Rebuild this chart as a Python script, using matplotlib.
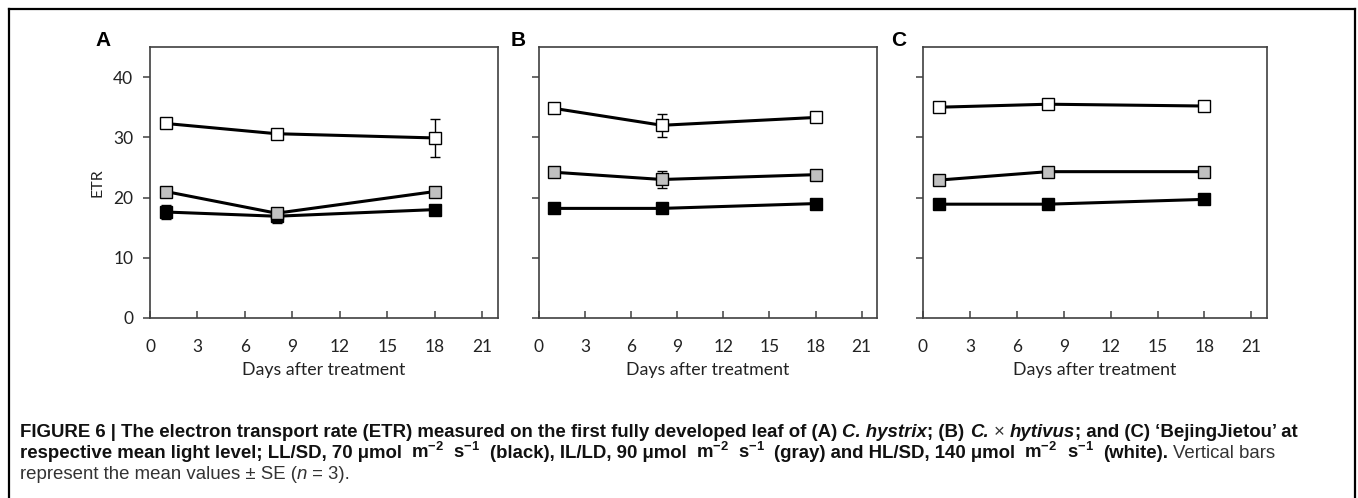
import numpy as np
import matplotlib.pyplot as plt
from matplotlib.lines import Line2D

W, H = 1358, 498

# Days after treatment
days = [1, 8, 18]

# panel A: C. hystrix
a_black = [17.6, 16.9, 18.0]
a_black_err = [1.1, 1.2, 0.3]
a_gray = [21.0, 17.4, 21.0]
a_gray_err = [0.4, 0.5, 0.4]
a_white = [32.3, 30.6, 29.9]
a_white_err = [0.5, 0.4, 3.2]

# panel B: C. x hytivus
b_black = [18.2, 18.2, 19.0]
b_black_err = [0.3, 0.3, 0.3]
b_gray = [24.2, 23.0, 23.8]
b_gray_err = [0.3, 1.4, 0.3]
b_white = [34.8, 32.0, 33.3]
b_white_err = [0.4, 1.9, 0.3]

# panel C: 'BejingJietou'
c_black = [18.9, 18.9, 19.7]
c_black_err = [0.3, 0.3, 0.3]
c_gray = [22.9, 24.3, 24.3]
c_gray_err = [0.3, 0.3, 0.3]
c_white = [35.0, 35.5, 35.2]
c_white_err = [0.3, 0.3, 0.3]

x_ticks = [0, 3, 6, 9, 12, 15, 18, 21]
y_ticks = [0, 10, 20, 30, 40]
panel_letters = ['A', 'B', 'C']

panels = [
    [(a_black, a_black_err), (a_gray, a_gray_err), (a_white, a_white_err)],
    [(b_black, b_black_err), (b_gray, b_gray_err), (b_white, b_white_err)],
    [(c_black, c_black_err), (c_gray, c_gray_err), (c_white, c_white_err)],
]
fills = ['black', '#c0c0c0', 'white']

# pixel boxes of the three axes (left, right), same top/bottom
ax_lr = [(150, 498), (539, 877), (923, 1267)]
ax_top, ax_bot = 47, 318
letter_x = [103, 518, 899]

fig = plt.figure(figsize=(W / 100, H / 100), dpi=100)

tick_font = 'Lato'
for i, (l, r) in enumerate(ax_lr):
    ax = fig.add_axes([l / W, 1 - ax_bot / H, (r - l) / W, (ax_bot - ax_top) / H])
    for (vals, errs), fc in zip(panels[i], fills):
        ax.errorbar(days, vals, yerr=errs, fmt='none', ecolor='black',
                    elinewidth=1.0, capsize=3.5, capthick=1.0, zorder=2)
        ax.plot(days, vals, color='black', lw=2.2, marker='s', markersize=9,
                markerfacecolor=fc, markeredgecolor='black', markeredgewidth=1.0,
                zorder=3)
    ax.set_xlim(0, 22)
    ax.set_ylim(0, 45)
    ax.set_xticks(x_ticks)
    ax.set_yticks(y_ticks)
    for s in ax.spines.values():
        s.set_color('#404040')
        s.set_linewidth(1.2)
    ax.tick_params(axis='x', direction='in', length=5, width=1.1, color='#404040',
                   labelsize=12.5, pad=15, labelcolor='#222222')
    ax.tick_params(axis='y', direction='out', length=5, width=1.1, color='#404040',
                   labelsize=12.5, pad=7, labelcolor='#222222')
    for lab in ax.get_xticklabels() + ax.get_yticklabels():
        lab.set_fontfamily(tick_font)
    if i == 0:
        ax.set_ylabel('ETR', fontsize=11.5, family=tick_font, color='#222222', labelpad=6)
    else:
        ax.set_yticklabels([])
    ax.set_xlabel('Days after treatment', fontsize=12.8, family=tick_font,
                  color='#222222', labelpad=5)
    fig.text(letter_x[i] / W, 1 - 40 / H, panel_letters[i], fontsize=15,
             fontweight='bold', family='Liberation Sans', ha='center', va='center')

# outer frame (left, top, right)
frame_kw = dict(color='black', lw=1.6, transform=fig.transFigure)
fig.add_artist(Line2D([9 / W, 9 / W], [0, 1 - 9 / H], **frame_kw))
fig.add_artist(Line2D([9 / W, 1355 / W], [1 - 9 / H, 1 - 9 / H], **frame_kw))
fig.add_artist(Line2D([1355 / W, 1355 / W], [0, 1 - 9 / H], **frame_kw))

# caption, drawn piece by piece
plt.rcParams['mathtext.fontset'] = 'custom'
plt.rcParams['mathtext.rm'] = 'Liberation Sans'
plt.rcParams['mathtext.it'] = 'Liberation Sans:italic'
plt.rcParams['mathtext.bf'] = 'Liberation Sans:bold'

cap_size = 13.4
renderer = fig.canvas.get_renderer()
space_px = 0.278 * cap_size * 100 / 72

def draw_line(pieces, x0, y):
    x = x0
    for txt, weight, style, gap in pieces:
        x += gap
        t = fig.text(x / W, 1 - y / H, txt, fontsize=cap_size, fontweight=weight,
                     fontstyle=style, family='Liberation Sans', ha='left',
                     va='baseline', color='#111111' if weight == 'bold' else '#333333')
        x += t.get_window_extent(renderer).width

B, R = 'bold', 'normal'
N, I = 'normal', 'italic'
sp = space_px
wide = space_px + 4
sup2 = r'm$^{\mathregular{-2}}$'
sup1 = r's$^{\mathregular{-1}}$'

line1 = [
    ('FIGURE 6 | The electron transport rate (ETR) measured on the first fully developed leaf of (A)', B, N, 0),
    ('C. hystrix', B, I, sp),
    ('; (B)', B, N, 0),
    ('C.', B, I, sp),
    ('\u00d7', R, N, sp),
    ('hytivus', B, I, sp),
    ('; and (C) \u2018BejingJietou\u2019 at', B, N, 0),
]
line2 = [
    ('respective mean light level; LL/SD, 70 \u03bcmol', B, N, 0),
    (sup2, B, N, wide), (sup1, B, N, wide),
    ('(black), IL/LD, 90 \u03bcmol', B, N, wide),
    (sup2, B, N, wide), (sup1, B, N, wide),
    ('(gray) and HL/SD, 140 \u03bcmol', B, N, wide),
    (sup2, B, N, wide), (sup1, B, N, wide),
    ('(white).', B, N, wide),
    ('Vertical bars', R, N, sp),
]
line3 = [
    ('represent the mean values \u00b1 SE (', R, N, 0),
    ('n', R, I, 0),
    (' = 3).', R, N, 0),
]

draw_line(line1, 20, 437)
draw_line(line2, 20, 458)
draw_line(line3, 20, 479)

fig.savefig('out.png', dpi=100)
